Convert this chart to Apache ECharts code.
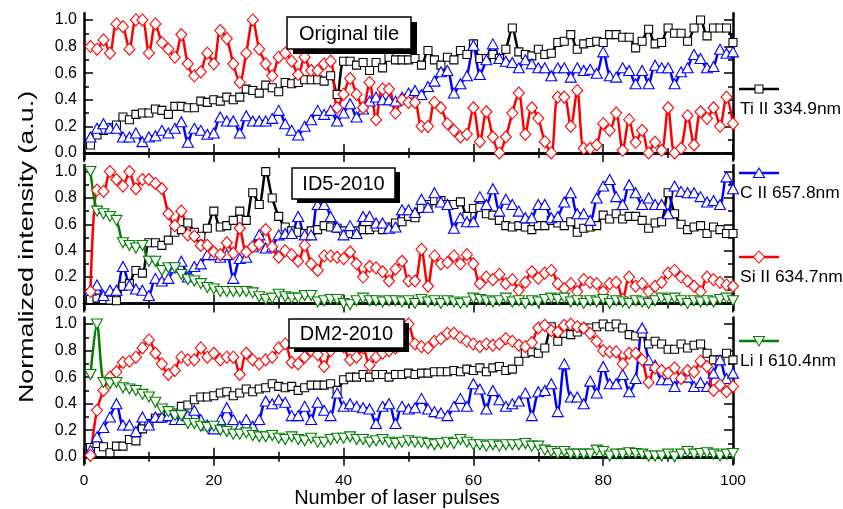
<!DOCTYPE html>
<html><head><meta charset="utf-8">
<script src="https://cdn.jsdelivr.net/npm/echarts@6/dist/echarts.min.js"></script>
<style>html,body{margin:0;padding:0;background:#fff}#c{width:843px;height:509px}</style>
</head><body><div id="c"></div><script>
const pulses=[1,2,3,4,5,6,7,8,9,10,11,12,13,14,15,16,17,18,19,20,21,22,23,24,25,26,27,28,29,30,31,32,33,34,35,36,37,38,39,40,41,42,43,44,45,46,47,48,49,50,51,52,53,54,55,56,57,58,59,60,61,62,63,64,65,66,67,68,69,70,71,72,73,74,75,76,77,78,79,80,81,82,83,84,85,86,87,88,89,90,91,92,93,94,95,96,97,98,99,100];
const yTicks=[0,0.2,0.4,0.6,0.8,1.0];
const yMinor=[0.1,0.3,0.5,0.7,0.9];
const panelNames=['Original tile','ID5-2010','DM2-2010'];
const legendNames=['Ti II 334.9nm','C II 657.8nm','Si II 634.7nm','Li I 610.4nm'];

// Panel 1: Original tile
const tiA=[0.06,0.135,0.17,0.19,0.21,0.27,0.25,0.29,0.30,0.30,
0.33,0.32,0.29,0.35,0.35,0.34,0.34,0.39,0.38,0.40,
0.39,0.42,0.40,0.42,0.48,0.47,0.45,0.51,0.49,0.46,
0.53,0.52,0.53,0.55,0.55,0.55,0.54,0.58,0.44,0.69,
0.69,0.66,0.68,0.62,0.68,0.64,0.72,0.70,0.70,0.70,
0.71,0.66,0.77,0.70,0.66,0.72,0.70,0.77,0.74,0.82,
0.71,0.71,0.74,0.71,0.78,0.94,0.76,0.74,0.73,0.78,
0.74,0.75,0.83,0.84,0.89,0.78,0.82,0.83,0.84,0.83,
0.89,0.89,0.87,0.87,0.79,0.84,0.93,0.82,0.83,0.94,
0.90,0.90,0.84,0.94,1.0,0.88,0.94,0.94,0.94,0.83];
const cA=[0.12,0.185,0.22,0.185,0.185,0.12,0.12,0.15,0.085,0.12,
0.13,0.17,0.15,0.185,0.235,0.08,0.185,0.17,0.14,0.15,
0.27,0.24,0.24,0.15,0.28,0.24,0.24,0.24,0.26,0.32,
0.22,0.17,0.135,0.20,0.25,0.32,0.29,0.32,0.24,0.30,
0.37,0.27,0.33,0.39,0.42,0.40,0.40,0.39,0.42,0.45,
0.47,0.44,0.50,0.54,0.61,0.62,0.45,0.52,0.58,0.81,
0.59,0.70,0.82,0.71,0.69,0.68,0.64,0.70,0.67,0.64,
0.64,0.58,0.64,0.64,0.57,0.64,0.62,0.63,0.60,0.76,
0.58,0.57,0.64,0.62,0.52,0.62,0.52,0.66,0.64,0.64,
0.52,0.61,0.64,0.74,0.71,0.64,0.65,0.78,0.75,0.76];
const siA=[0.80,0.78,0.85,0.75,0.97,0.95,0.78,1.0,1.0,0.75,
0.97,0.83,0.78,0.72,0.89,0.67,0.58,0.61,0.75,0.67,
0.92,0.86,0.67,0.53,0.75,1.0,0.78,0.67,0.58,0.72,
0.75,0.69,0.59,0.72,0.62,0.62,0.67,0.69,0.34,0.44,
0.56,0.44,0.34,0.53,0.25,0.48,0.48,0.30,0.40,0.38,
0.38,0.20,0.20,0.38,0.34,0.22,0.17,0.12,0.14,0.34,
0.085,0.31,0.12,0.0,0.12,0.30,0.45,0.14,0.34,0.26,
0.085,0.0,0.42,0.42,0.20,0.47,0.035,0.035,0.06,0.22,
0.17,0.30,0.02,0.25,0.08,0.17,0.0,0.08,0.02,0.34,
0.0,0.035,0.28,0.06,0.31,0.26,0.34,0.20,0.42,0.22];

// Panel 2: ID5-2010
const tiB=[0.03,0.04,0.03,0.025,0.02,0.13,0.15,0.25,0.23,0.46,
0.46,0.44,0.48,0.54,0.56,0.61,0.54,0.51,0.57,0.70,
0.58,0.59,0.63,0.70,0.63,0.84,0.75,1.0,0.80,0.66,
0.58,0.55,0.54,0.53,0.55,0.56,0.59,0.58,0.57,0.55,
0.53,0.55,0.56,0.56,0.58,0.56,0.58,0.61,0.62,0.66,
0.65,0.72,0.75,0.78,0.78,0.75,0.75,0.77,0.66,0.72,
0.73,0.68,0.67,0.63,0.59,0.58,0.59,0.58,0.56,0.59,
0.59,0.63,0.61,0.59,0.62,0.54,0.57,0.58,0.59,0.67,
0.64,0.68,0.64,0.66,0.66,0.63,0.57,0.61,0.62,0.84,
0.68,0.60,0.56,0.58,0.59,0.53,0.58,0.56,0.53,0.53];
const cB=[0.10,0.14,0.06,0.10,0.10,0.28,0.14,0.11,0.10,0.06,
0.19,0.17,0.19,0.27,0.32,0.20,0.28,0.30,0.37,0.37,
0.35,0.37,0.19,0.34,0.35,0.43,0.52,0.42,0.43,0.52,
0.53,0.53,0.66,0.52,0.52,0.75,0.75,0.66,0.58,0.52,
0.59,0.53,0.66,0.66,0.61,0.61,0.57,0.58,0.71,0.71,
0.69,0.79,0.73,0.84,0.77,0.75,0.57,0.65,0.62,0.62,
0.81,0.75,0.87,0.70,0.79,0.75,0.70,0.65,0.65,0.75,
0.75,0.65,0.66,0.77,0.84,0.68,0.68,0.63,0.80,0.89,
0.94,0.81,0.75,0.90,0.84,0.75,0.80,0.75,0.75,0.68,
0.89,0.85,0.84,0.84,0.81,0.77,0.78,0.75,0.96,0.87];
const siB=[0.09,0.86,0.85,1.0,0.94,0.89,1.0,0.87,0.94,0.94,
0.91,0.87,0.68,0.59,0.70,0.52,0.51,0.44,0.44,0.39,
0.37,0.46,0.38,0.57,0.39,0.43,0.45,0.56,0.43,0.35,
0.40,0.37,0.32,0.44,0.30,0.25,0.36,0.36,0.35,0.34,
0.39,0.30,0.20,0.28,0.27,0.24,0.17,0.26,0.32,0.17,
0.17,0.41,0.13,0.36,0.30,0.31,0.36,0.30,0.37,0.30,
0.15,0.20,0.18,0.22,0.15,0.18,0.10,0.16,0.24,0.19,
0.23,0.25,0.15,0.11,0.15,0.09,0.18,0.16,0.15,0.09,
0.15,0.16,0.03,0.20,0.13,0.15,0.09,0.13,0.16,0.23,
0.25,0.20,0.17,0.13,0.09,0.20,0.18,0.16,0.14,0.13];
const liB=[1.0,0.70,0.68,0.66,0.63,0.46,0.44,0.42,0.44,0.32,
0.32,0.25,0.27,0.27,0.22,0.18,0.17,0.15,0.12,0.11,
0.09,0.09,0.09,0.09,0.09,0.08,0.05,0.03,0.04,0.07,
0.05,0.04,0.04,0.06,0.06,0.01,0.02,0.03,0.03,0.0,
-0.01,0.02,0.04,0.02,0.02,0.01,0.02,0.02,0.01,0.02,
0.0,0.03,0.01,0.02,0.0,0.02,0.01,0.0,0.01,0.04,
0.03,0.02,0.01,0.02,0.04,0.01,0.02,0.0,0.02,0.01,
0.03,0.04,0.03,0.04,0.01,0.02,0.0,0.02,0.01,0.03,
0.0,0.02,0.01,0.0,0.02,0.01,0.0,0.02,0.04,0.03,
0.04,0.02,0.0,0.02,0.01,0.02,0.01,0.03,0.04,0.02];

// Panel 3: DM2-2010
const tiC=[0.07,0.10,0.075,0.03,0.08,0.08,0.13,0.12,0.21,0.25,
0.29,0.29,0.31,0.33,0.38,0.39,0.43,0.45,0.45,0.46,
0.48,0.49,0.46,0.48,0.51,0.49,0.51,0.52,0.55,0.53,
0.52,0.53,0.50,0.52,0.54,0.54,0.54,0.55,0.50,0.58,
0.60,0.60,0.62,0.60,0.62,0.62,0.60,0.62,0.62,0.63,
0.62,0.63,0.63,0.64,0.64,0.64,0.65,0.64,0.66,0.65,
0.67,0.64,0.67,0.68,0.65,0.66,0.72,0.78,0.79,0.78,
0.82,0.98,0.87,0.93,0.92,0.94,0.97,0.97,0.98,1.0,
0.98,1.0,0.97,0.92,0.91,0.93,0.85,0.87,0.85,0.81,
0.81,0.85,0.82,0.84,0.85,0.78,0.73,0.73,0.78,0.73];
const cC=[0.05,0.15,0.22,0.30,0.40,0.24,0.24,0.19,0.30,0.24,
0.30,0.30,0.31,0.28,0.28,0.31,0.35,0.28,0.24,0.21,
0.28,0.37,0.28,0.23,0.28,0.23,0.28,0.42,0.40,0.43,
0.41,0.31,0.31,0.38,0.28,0.41,0.35,0.31,0.48,0.38,
0.40,0.38,0.37,0.36,0.25,0.38,0.40,0.25,0.38,0.36,
0.37,0.44,0.36,0.34,0.33,0.31,0.38,0.44,0.38,0.55,
0.51,0.36,0.50,0.43,0.38,0.40,0.42,0.48,0.31,0.49,
0.50,0.55,0.34,0.70,0.45,0.45,0.40,0.57,0.48,0.68,
0.55,0.55,0.62,0.49,0.59,0.97,0.73,0.69,0.58,0.58,
0.53,0.60,0.60,0.53,0.56,0.53,0.63,0.73,0.59,0.63];
const siC=[0.01,0.35,0.50,0.60,0.64,0.71,0.72,0.75,0.82,0.88,
0.78,0.70,0.62,0.65,0.75,0.73,0.73,0.82,0.75,0.78,
0.73,0.75,0.75,0.62,0.78,0.73,0.70,0.73,0.75,0.82,
0.85,0.71,0.70,0.75,0.80,0.77,0.68,0.80,0.84,0.83,
0.73,0.75,0.82,0.69,0.75,0.78,0.80,0.82,0.85,1.0,
0.85,0.83,0.82,0.87,0.89,0.93,0.93,0.90,0.87,0.85,
0.83,0.85,0.84,0.85,0.89,0.87,0.84,0.83,0.86,0.97,
0.99,0.95,0.94,0.99,1.0,0.98,0.97,0.93,0.87,0.80,
0.79,0.79,0.70,0.78,0.78,0.73,0.56,0.67,0.65,0.63,
0.67,0.59,0.65,0.64,0.72,0.68,0.50,0.54,0.49,0.53];
const liC=[0.62,1.0,0.56,0.55,0.56,0.52,0.51,0.50,0.47,0.45,
0.41,0.36,0.34,0.31,0.31,0.25,0.25,0.23,0.22,0.23,
0.20,0.19,0.17,0.17,0.18,0.16,0.15,0.15,0.16,0.14,
0.13,0.15,0.13,0.12,0.14,0.11,0.11,0.13,0.14,0.14,
0.15,0.13,0.13,0.11,0.12,0.13,0.11,0.10,0.11,0.12,
0.11,0.11,0.10,0.09,0.10,0.11,0.10,0.13,0.11,0.09,
0.09,0.08,0.09,0.08,0.09,0.09,0.09,0.10,0.08,0.08,
0.05,0.04,0.025,0.04,0.02,0.02,0.02,0.02,0.05,0.04,
0.005,0.02,0.02,0.03,0.025,0.02,0.005,0.005,0.005,0.02,
0.0,0.02,0.04,0.02,0.025,0.03,0.02,0.005,0.02,0.025];

const panels=[
  {ti:tiA,c:cA,si:siA,li:null},
  {ti:tiB,c:cB,si:siB,li:liB},
  {ti:tiC,c:cC,si:siC,li:liC}
];
const COL={ti:'#000000',c:'#0000ff',si:'#ff0000',li:'#008000'};
const FONT='"Liberation Sans", Arial, sans-serif';

const grids=[
  {left:84,top:13.3,width:649,height:146.3},
  {left:84,top:165,width:649,height:145},
  {left:84,top:317.4,width:649,height:146}
];

const xAxis=[],yAxis=[],series=[];
const axLine={show:true,lineStyle:{color:'#000',width:2.5}};
grids.forEach((g,gi)=>{
  ['bottom','top'].forEach(pos=>{
    xAxis.push({gridIndex:gi,type:'value',min:0,max:100,interval:20,position:pos,
      axisLine:axLine,
      axisTick:{show:true,inside:true,length:9,lineStyle:{color:'#000',width:1.5}},
      minorTick:{show:true,splitNumber:2,length:5,lineStyle:{color:'#000',width:1.5}},
      axisLabel:{show:(gi===2&&pos==='bottom'),color:'#000',fontSize:15.5,fontFamily:FONT,margin:9},
      splitLine:{show:false},minorSplitLine:{show:false}});
  });
  ['left','right'].forEach(pos=>{
    yAxis.push({gridIndex:gi,type:'value',min:-0.05,max:1.05,position:pos,
      axisLine:axLine,
      axisTick:{show:true,inside:true,length:9,customValues:yTicks,lineStyle:{color:'#000',width:1.5}},
      axisLabel:{show:pos==='left',customValues:yTicks,formatter:v=>v.toFixed(1),color:'#000',fontSize:16,fontFamily:FONT,margin:7},
      splitLine:{show:false}});
    yAxis.push({gridIndex:gi,type:'value',min:-0.05,max:1.05,position:pos,
      axisLine:{show:false},
      axisTick:{show:true,inside:true,length:5,customValues:yMinor,lineStyle:{color:'#000',width:1.5}},
      axisLabel:{show:false},
      splitLine:{show:false}});
  });
});

function mk(gi,key,vals){
  const sym={ti:'rect',c:'triangle',si:'diamond',li:'triangle'}[key];
  const size={ti:8,c:[11,10],si:[11,12],li:[11,10]}[key];
  return {type:'line',xAxisIndex:gi*2,yAxisIndex:gi*4,
    data:pulses.map((p,i)=>[p,vals[i]]),
    smooth:0.3,symbol:sym,symbolSize:size,symbolRotate:key==='li'?180:0,showAllSymbol:true,
    lineStyle:{color:COL[key],width:2.5},
    itemStyle:{color:'#fff',borderColor:COL[key],borderWidth:1.1},
    emphasis:{disabled:true},animation:false,clip:true};
}
panels.forEach((p,gi)=>{
  series.push(mk(gi,'ti',p.ti));
  series.push(mk(gi,'c',p.c));
  series.push(mk(gi,'si',p.si));
  if(p.li) series.push(mk(gi,'li',p.li));
});

const graphic=[];
// panel label boxes
const boxes=[[287,17,124,32,6],[292,168,103,31,5],[289,319,115,29,5]];
boxes.forEach((b,i)=>{
  const [x,y,w,h,s]=b;
  graphic.push({type:'rect',z:100,shape:{x:x+s,y:y+s-1,width:w,height:h},style:{fill:'#000'}});
  graphic.push({type:'rect',z:101,shape:{x:x,y:y,width:w,height:h},style:{fill:'#fff',stroke:'#000',lineWidth:1.5}});
  graphic.push({type:'text',z:102,x:x+w/2,y:y+h/2+1,style:{text:panelNames[i],font:'20px '+FONT,fill:'#000',align:'center',verticalAlign:'middle'}});
});
// legend
const legY=[89,173,257,341], legT=[110,194,278,362], keys=['ti','c','si','li'];
keys.forEach((k,i)=>{
  const Y=legY[i], cx=759;
  graphic.push({type:'line',z:100,shape:{x1:739,y1:Y,x2:779,y2:Y},style:{stroke:COL[k],lineWidth:2.5}});
  let m;
  if(k==='ti') m={type:'rect',shape:{x:cx-4,y:Y-4,width:8,height:8}};
  else if(k==='c') m={type:'polygon',shape:{points:[[cx,Y-5],[cx+5.5,Y+4.5],[cx-5.5,Y+4.5]]}};
  else if(k==='si') m={type:'polygon',shape:{points:[[cx,Y-6],[cx+5.5,Y],[cx,Y+6],[cx-5.5,Y]]}};
  else m={type:'polygon',shape:{points:[[cx-5.5,Y-4.5],[cx+5.5,Y-4.5],[cx,Y+5]]}};
  m.z=101; m.style={fill:'#fff',stroke:COL[k],lineWidth:1.1};
  graphic.push(m);
  graphic.push({type:'text',z:100,x:740,y:legT[i],scaleX:1.09,style:{text:legendNames[i],font:'16px '+FONT,fill:'#000',verticalAlign:'middle'}});
});
// axis titles
graphic.push({type:'text',z:100,x:27,y:247,rotation:Math.PI/2,scaleX:1.28,style:{text:'Normalized intensity (a.u.)',font:'21px '+FONT,fill:'#000',align:'center',verticalAlign:'middle'}});
graphic.push({type:'text',z:100,x:397,y:498,style:{text:'Number of laser pulses',font:'20px '+FONT,fill:'#000',align:'center',verticalAlign:'middle'}});

const chart=echarts.init(document.getElementById('c'),null,{renderer:'canvas'});
chart.setOption({animation:false,backgroundColor:'#fff',grid:grids,xAxis,yAxis,series,graphic});
</script></body></html>
